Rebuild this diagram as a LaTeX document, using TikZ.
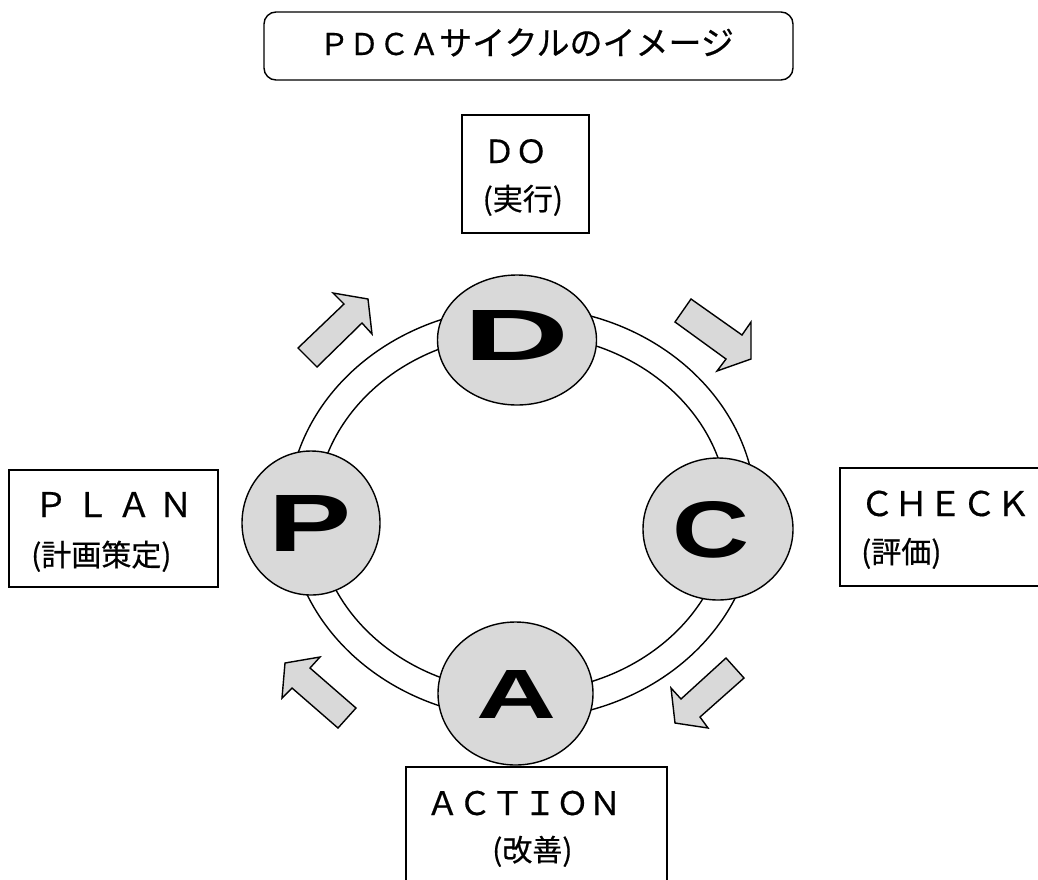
\documentclass[tikz,border=0pt]{standalone}
\usepackage{fontspec}
\usepackage{graphicx}
\setmainfont{Noto Sans CJK JP}
\newfontfamily\jpfont[FakeBold=0.5]{Noto Sans CJK JP}
\newfontfamily\letterfont{Liberation Sans}
\definecolor{cfill}{HTML}{D9D9D9}
\usetikzlibrary{shapes.geometric}
\tikzset{
  frame/.style={draw=black, line width=1.4pt, fill=white},
  bubble/.style={draw=black, line width=1.4pt, fill=cfill, ellipse},
  blockarrow/.style={draw=black, line width=1.4pt, fill=cfill, line join=miter},
  ring/.style={draw=black, line width=1.4pt},
  head/.style={anchor=base west, inner sep=0pt, font=\jpfont\fontsize{34pt}{40pt}\selectfont},
  sub/.style={anchor=base west, inner sep=0pt, font=\jpfont\fontsize{30pt}{36pt}\selectfont},
  big/.style={inner sep=0pt, font=\letterfont\bfseries}
}
\begin{document}
\begin{tikzpicture}[x=1pt, y=-1pt]
\useasboundingbox (0,0) rectangle (1038,879);
% title
\draw[frame, rounded corners=12pt] (264,12) rectangle (793,80);
\node[inner sep=0pt, anchor=base west, font=\jpfont] (title) at (319,55) {{\fontsize{30pt}{36pt}\selectfont ＰＤＣＡ}{\fontsize{33pt}{40pt}\selectfont サイクルのイメージ}};
% ring
\draw[ring] (522,513) ellipse [x radius=234, y radius=206];
\draw[ring] (522,513) ellipse [x radius=206, y radius=179];
% bubbles
\node[bubble, minimum width=159pt, minimum height=130pt] (D) at (517,340) {};
\node[bubble, minimum width=138pt, minimum height=144pt] (P) at (311,523) {};
\node[bubble, minimum width=150pt, minimum height=142pt] (C) at (718,529) {};
\node[bubble, minimum width=155pt, minimum height=143pt] (A) at (515.5,693.5) {};
\node[big] (Dl) at (516.5,335) {\resizebox{106pt}{50pt}{D}};
\node[big] (Pl) at (310.5,523) {\resizebox{83pt}{56pt}{P}};
\node[big] (Cl) at (711.5,530) {\resizebox{77pt}{56pt}{C}};
\node[big] (Al) at (517,694) {\resizebox{80pt}{48pt}{A}};
% block arrows
\draw[blockarrow] (298,348) -- (344,304) -- (333,293) -- (368,299) -- (372,334) -- (362,323) -- (317,367) -- cycle;
\draw[blockarrow] (691,299) -- (742,335) -- (751,322) -- (751,359) -- (717,371) -- (726,359) -- (675,322) -- cycle;
\draw[blockarrow] (726,658) -- (744,678) -- (700,717) -- (708,728) -- (675,723) -- (671,688) -- (681,699) -- cycle;
\draw[blockarrow] (320,657) -- (310,668) -- (356,708) -- (338,728) -- (292,688) -- (282,698) -- (285,663) -- cycle;
% label boxes
\draw[frame] (462,115) rectangle (589,233);
\draw[frame] (9,470) rectangle (218,587);
\draw[frame] (840,468) rectangle (1045,586);
\draw[frame] (406,767) rectangle (667,890);
% labels
\node[head, font=\jpfont\fontsize{32pt}{40pt}\selectfont] (do) at (483,163) {ＤＯ};
\node[sub] (doj) at (482.5,210) {(実行)};
\node[head] (plan) at (33.6,517) {Ｐ Ｌ Ａ Ｎ};
\node[sub] (planj) at (31,566) {(計画策定)};
\node[head] (check) at (860,516) {ＣＨＥＣＫ};
\node[sub] (checkj) at (861,563) {(評価)};
\node[head, font=\jpfont\fontsize{32.5pt}{40pt}\selectfont] (action) at (426,815) {ＡＣＴＩＯＮ};
\node[sub] (actionj) at (492,861) {(改善)};
\end{tikzpicture}
\end{document}
